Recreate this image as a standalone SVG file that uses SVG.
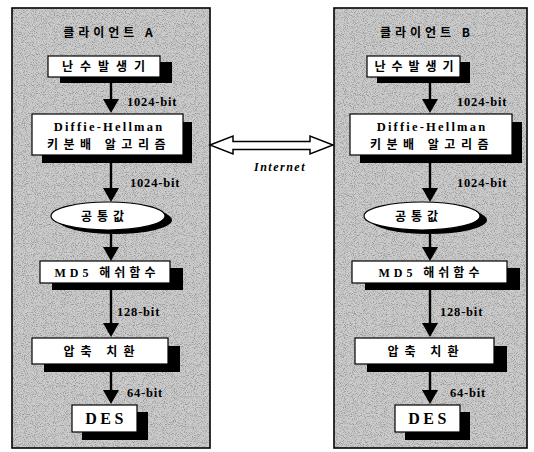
<svg xmlns="http://www.w3.org/2000/svg" width="534" height="452" viewBox="0 0 534 452">
<style>
.panel{fill:#cbcbcb;stroke:#000;stroke-width:1.6}
.box{fill:#fff;stroke:#000;stroke-width:1.2}
.sh{fill:#000}
.ko{font-family:"Noto Sans CJK KR","Noto Sans",sans-serif;font-weight:bold;font-size:12px;text-anchor:middle;fill:#000}
.en{font-family:"Liberation Serif","DejaVu Serif",serif;font-weight:bold;font-size:12.5px;text-anchor:middle;fill:#000}
.des{font-size:16px;font-weight:600}
.lbl{font-family:"Liberation Serif","DejaVu Serif",serif;font-weight:bold;font-size:12.5px;letter-spacing:0.8px;fill:#000}
.ln{stroke:#000;stroke-width:2.4;fill:none}
.hd{fill:#000}
</style>
<defs>
<filter id="speck" x="0" y="0" width="100%" height="100%">
<feTurbulence type="fractalNoise" baseFrequency="1.1" numOctaves="1" seed="7"/>
<feColorMatrix type="matrix" values="0 0 0 0 0  0 0 0 0 0  0 0 0 0 0  -4 0 0 0 2.1"/>
</filter>
</defs>
<rect width="534" height="452" fill="#fff"/>
<g id="clientA">
<rect class="panel" x="12" y="8" width="198" height="440"/>
<rect x="13" y="9" width="196" height="438" fill="#000" filter="url(#speck)" opacity="0.25"/>
<text class="ko" x="110" y="37" letter-spacing="4">클라이언트 A</text>
</g>
<g id="clientB">
<rect class="panel" x="334" y="8" width="193" height="440"/>
<rect x="335" y="9" width="191" height="438" fill="#000" filter="url(#speck)" opacity="0.25"/>
<text class="ko" x="427" y="37" letter-spacing="4">클라이언트 B</text>
</g>
<g id="A-rng">
<rect class="sh" x="60" y="62" width="112" height="21"/>
<rect class="box" x="48" y="56" width="112" height="21"/>
<text class="ko" x="107" y="71" letter-spacing="7">난수발생기</text>
</g>
<g id="A-dh">
<rect class="sh" x="42" y="122" width="150" height="41"/>
<rect class="box" x="32" y="114" width="151" height="41"/>
<text class="en" x="109" y="131" letter-spacing="2.2">Diffie-Hellman</text>
<text class="ko" x="109" y="149" letter-spacing="5.5">키분배 알고리즘</text>
</g>
<g id="A-common">
<ellipse class="sh" cx="115" cy="220" rx="57" ry="14"/>
<ellipse class="box" cx="108" cy="216" rx="57" ry="14"/>
<text class="ko" x="105" y="221" letter-spacing="5">공통값</text>
</g>
<g id="A-md5">
<rect class="sh" x="52" y="268" width="131" height="22"/>
<rect class="box" x="40" y="261" width="130" height="22"/>
<text class="ko" x="107" y="277" letter-spacing="4"><tspan font-family="Liberation Serif,serif">MD5</tspan> 해쉬함수</text>
</g>
<g id="A-perm">
<rect class="sh" x="44" y="346" width="136" height="26"/>
<rect class="box" x="32" y="338" width="136" height="26"/>
<text class="ko" x="102" y="356" letter-spacing="6">압축 치환</text>
</g>
<g id="A-des">
<rect class="sh" x="82" y="412" width="66" height="28"/>
<rect class="box" x="72" y="405" width="65" height="27"/>
<text class="en des" x="106" y="424" letter-spacing="3.5">DES</text>
</g>
<g id="B-rng">
<rect class="sh" x="377" y="62" width="93" height="21"/>
<rect class="box" x="367" y="56" width="93" height="21"/>
<text class="ko" x="417" y="71" letter-spacing="6">난수발생기</text>
</g>
<g id="B-dh">
<rect class="sh" x="360" y="122" width="162" height="41"/>
<rect class="box" x="350" y="114" width="162" height="41"/>
<text class="en" x="432" y="131" letter-spacing="2.2">Diffie-Hellman</text>
<text class="ko" x="432" y="149" letter-spacing="5.5">키분배 알고리즘</text>
</g>
<g id="B-common">
<ellipse class="sh" cx="429" cy="220" rx="58" ry="14"/>
<ellipse class="box" cx="422" cy="216" rx="58" ry="14"/>
<text class="ko" x="419" y="221" letter-spacing="5">공통값</text>
</g>
<g id="B-md5">
<rect class="sh" x="365" y="268" width="155" height="22"/>
<rect class="box" x="352" y="261" width="155" height="22"/>
<text class="ko" x="431" y="277" letter-spacing="4"><tspan font-family="Liberation Serif,serif">MD5</tspan> 해쉬함수</text>
</g>
<g id="B-perm">
<rect class="sh" x="367" y="346" width="140" height="26"/>
<rect class="box" x="355" y="338" width="139" height="26"/>
<text class="ko" x="426" y="356" letter-spacing="6">압축 치환</text>
</g>
<g id="B-des">
<rect class="sh" x="405" y="412" width="65" height="28"/>
<rect class="box" x="395" y="405" width="65" height="27"/>
<text class="en des" x="429" y="424" letter-spacing="3.5">DES</text>
</g>
<g id="connectors">
<line class="ln" x1="111" y1="83" x2="111" y2="101"/><polygon class="hd" points="103,99 119,99 111,113"/>
<line class="ln" x1="111" y1="163" x2="111" y2="190"/><polygon class="hd" points="103,188 119,188 111,202"/>
<line class="ln" x1="111" y1="234" x2="111" y2="249"/><polygon class="hd" points="103,247 119,247 111,261"/>
<line class="ln" x1="111" y1="290" x2="111" y2="325"/><polygon class="hd" points="103,323 119,323 111,337"/>
<line class="ln" x1="111" y1="372" x2="111" y2="392"/><polygon class="hd" points="103,390 119,390 111,404"/>
<line class="ln" x1="430" y1="83" x2="430" y2="101"/><polygon class="hd" points="422,99 438,99 430,113"/>
<line class="ln" x1="430" y1="163" x2="430" y2="190"/><polygon class="hd" points="422,188 438,188 430,202"/>
<line class="ln" x1="430" y1="234" x2="430" y2="249"/><polygon class="hd" points="422,247 438,247 430,261"/>
<line class="ln" x1="430" y1="290" x2="430" y2="325"/><polygon class="hd" points="422,323 438,323 430,337"/>
<line class="ln" x1="430" y1="372" x2="430" y2="392"/><polygon class="hd" points="422,390 438,390 430,404"/>
<text class="lbl" x="127" y="106">1024-bit</text>
<text class="lbl" x="130" y="187">1024-bit</text>
<text class="lbl" x="117" y="316">128-bit</text>
<text class="lbl" x="127" y="397">64-bit</text>
<text class="lbl" x="457" y="106">1024-bit</text>
<text class="lbl" x="457" y="187">1024-bit</text>
<text class="lbl" x="440" y="316">128-bit</text>
<text class="lbl" x="450" y="397">64-bit</text>
<polygon points="210,145 233,136 233,141.5 310,141.5 310,136 333,145 310,154 310,149.5 233,149.5 233,154" fill="#fff" stroke="#000" stroke-width="1.5" stroke-linejoin="miter"/>
<text x="280" y="171" font-family="Liberation Serif,serif" font-style="italic" font-weight="bold" font-size="12" letter-spacing="1.5" text-anchor="middle">Internet</text>
</g>
</svg>
